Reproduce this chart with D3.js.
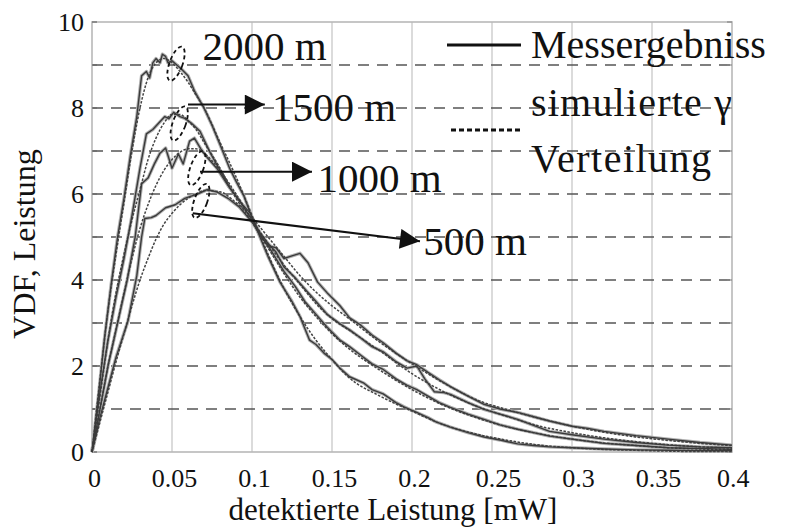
<!DOCTYPE html>
<html><head><meta charset="utf-8">
<script src="https://cdn.jsdelivr.net/npm/d3@7"></script>
<style>body{margin:0;background:#fff}svg{display:block}text{font-family:"Liberation Serif","Times New Roman",Tinos,"DejaVu Serif","Noto Serif",serif;fill:#111}</style>
</head><body><svg id="c" width="790" height="528"></svg>
<script>
// ---- data ----
const xTicks = [0, 0.05, 0.1, 0.15, 0.2, 0.25, 0.3, 0.35, 0.4];
const xTickLabels = ["0", "0.05", "0.1", "0.15", "0.2", "0.25", "0.3", "0.35", "0.4"];
const yTicks = [0, 2, 4, 6, 8, 10];
const yGrid = [1, 2, 3, 4, 5, 6, 7, 8, 9];
const distances = ["2000 m", "1500 m", "1000 m", "500 m"];

const meas2000 = [[0,0],[0.004,1.3],[0.008,2.7],[0.012,3.9],[0.016,5.0],[0.02,5.9],[0.024,6.9],[0.028,7.8],[0.031,8.75],[0.034,8.85],[0.036,8.7],[0.038,9.05],[0.04,9.15],[0.0425,9.05],[0.044,9.25],[0.046,9.2],[0.0475,9.05],[0.05,9.1],[0.053,9.0],[0.056,8.9],[0.06,8.75],[0.064,8.4],[0.07,8.0],[0.075,7.6],[0.08,7.15],[0.086,6.6],[0.09,6.3],[0.095,5.95],[0.1,5.45],[0.105,5.0],[0.11,4.55],[0.1175,3.95],[0.125,3.5],[0.13,3.15],[0.136,2.6],[0.14,2.5],[0.145,2.3],[0.15,2.15],[0.155,1.95],[0.161,1.75],[0.17,1.6],[0.175,1.45],[0.182,1.35],[0.19,1.15],[0.195,1.05],[0.203,0.92],[0.21,0.8],[0.215,0.7],[0.224,0.58],[0.235,0.45],[0.245,0.35],[0.255,0.28],[0.266,0.19],[0.276,0.15],[0.286,0.12],[0.3,0.1],[0.32,0.07],[0.34,0.05],[0.36,0.04],[0.38,0.03],[0.4,0.03]];
const meas1500 = [[0,0],[0.005,1.4],[0.01,2.6],[0.015,3.6],[0.02,4.5],[0.025,5.5],[0.03,6.6],[0.034,7.4],[0.038,7.5],[0.041,7.62],[0.0455,7.8],[0.048,7.75],[0.051,7.9],[0.055,7.8],[0.058,7.76],[0.062,7.65],[0.0675,7.46],[0.074,6.95],[0.08,6.55],[0.086,6.15],[0.093,5.8],[0.099,5.55],[0.105,5.05],[0.11,4.8],[0.115,4.5],[0.12,4.2],[0.127,3.85],[0.133,3.5],[0.14,3.2],[0.147,2.9],[0.155,2.6],[0.161,2.45],[0.168,2.25],[0.175,2.05],[0.182,1.92],[0.19,1.7],[0.197,1.55],[0.203,1.45],[0.21,1.3],[0.217,1.15],[0.224,1.04],[0.235,0.88],[0.245,0.76],[0.255,0.63],[0.266,0.53],[0.276,0.45],[0.286,0.37],[0.3,0.3],[0.32,0.2],[0.34,0.15],[0.36,0.1],[0.38,0.08],[0.4,0.06]];
const meas1000 = [[0,0],[0.005,1.0],[0.01,2.0],[0.016,3.0],[0.022,4.0],[0.027,5.0],[0.031,6.24],[0.035,6.37],[0.039,6.7],[0.0425,6.95],[0.046,7.07],[0.05,6.6],[0.054,6.93],[0.057,6.7],[0.061,7.23],[0.064,7.3],[0.068,7.05],[0.072,6.85],[0.078,6.6],[0.085,6.2],[0.092,5.85],[0.1,5.4],[0.105,5.1],[0.11,4.85],[0.115,4.65],[0.12,4.3],[0.127,4.05],[0.134,3.75],[0.14,3.5],[0.147,3.2],[0.155,2.98],[0.161,2.84],[0.168,2.65],[0.175,2.45],[0.182,2.33],[0.19,2.1],[0.197,1.95],[0.203,2.0],[0.208,1.7],[0.214,1.4],[0.22,1.38],[0.224,1.34],[0.235,1.15],[0.245,0.99],[0.255,0.88],[0.266,0.76],[0.276,0.62],[0.286,0.48],[0.3,0.4],[0.32,0.3],[0.34,0.22],[0.36,0.16],[0.38,0.12],[0.4,0.1]];
const meas500 = [[0,0],[0.005,0.8],[0.01,1.5],[0.015,2.2],[0.0225,3.05],[0.028,4.1],[0.031,5.0],[0.033,5.43],[0.037,5.45],[0.04,5.5],[0.046,5.68],[0.052,5.75],[0.058,5.9],[0.062,5.95],[0.066,6.0],[0.072,6.1],[0.078,6.05],[0.085,5.9],[0.092,5.7],[0.1,5.35],[0.106,5.0],[0.11,4.8],[0.115,4.75],[0.12,4.5],[0.124,4.55],[0.13,4.62],[0.135,4.4],[0.141,3.95],[0.147,3.7],[0.155,3.4],[0.161,3.12],[0.168,2.95],[0.175,2.72],[0.182,2.54],[0.19,2.3],[0.197,2.12],[0.203,2.03],[0.21,1.85],[0.217,1.68],[0.224,1.52],[0.235,1.3],[0.245,1.11],[0.255,1.0],[0.266,0.92],[0.276,0.82],[0.286,0.72],[0.3,0.6],[0.31,0.55],[0.32,0.48],[0.34,0.38],[0.36,0.3],[0.38,0.22],[0.4,0.16]];

const simX = [0,0.005,0.01,0.015,0.02,0.025,0.03,0.035,0.04,0.045,0.05,0.055,0.06,0.065,0.07,0.08,0.09,0.1,0.11,0.12,0.13,0.14,0.15,0.16,0.18,0.2,0.22,0.24,0.26,0.28,0.3,0.32,0.34,0.36,0.38,0.4];
const sim2000 = [0,1.7,3.3,4.6,5.8,7.0,8.0,8.7,9.05,9.15,9.05,8.85,8.6,8.3,8.0,7.2,6.4,5.5,4.6,3.8,3.15,2.6,2.15,1.75,1.3,0.95,0.63,0.42,0.27,0.16,0.1,0.06,0.04,0.02,0.01,0.01];
const sim1500 = [0,1.3,2.6,3.7,4.6,5.4,6.1,6.8,7.3,7.65,7.85,7.85,7.7,7.5,7.2,6.6,5.9,5.35,4.75,4.15,3.6,3.15,2.75,2.42,1.9,1.45,1.08,0.8,0.58,0.42,0.3,0.21,0.15,0.1,0.07,0.05];
const sim1000 = [0,1.0,2.0,2.85,3.7,4.5,5.2,5.75,6.2,6.55,6.8,6.97,7.05,7.05,6.95,6.55,6.0,5.4,4.85,4.35,3.9,3.45,3.1,2.85,2.35,1.82,1.4,1.07,0.82,0.6,0.45,0.33,0.24,0.17,0.12,0.09];
const sim500 = [0,0.7,1.4,2.1,2.75,3.4,4.0,4.5,4.95,5.3,5.55,5.75,5.9,6.0,6.08,6.05,5.8,5.45,5.0,4.55,4.1,3.72,3.4,3.12,2.55,2.05,1.6,1.22,0.98,0.78,0.6,0.46,0.35,0.27,0.2,0.15];

// annotation positions in data units
const ellipseX = [0.0525, 0.0545, 0.0655, 0.068];
const ellipseY = [9.03, 7.64, 6.6, 5.84];
const arrowFrom = [null, [0.06, 8.08], [0.0675, 6.52], [0.063, 5.55]];
const arrowTo = [null, [0.108, 8.08], [0.1375, 6.52], [0.205, 4.9]];
const labelPos = [[0.069, 9.12], [0.1125, 7.7], [0.141, 6.05], [0.207, 4.57]];
const legendLabels = ["Messergebniss", "simulierte \u03b3", "Verteilung"];

// ---- chart ----
const svg = d3.select("#c");
const x = d3.scaleLinear().domain([0, 0.4]).range([92, 732]);
const y = d3.scaleLinear().domain([0, 10]).range([452, 22]);
const serif = '"Liberation Serif","Times New Roman",Tinos,"DejaVu Serif","Noto Serif",serif';

// vertical grid
svg.append("g").selectAll("line").data(xTicks.slice(1, -1)).join("line")
  .attr("x1", d => x(d)).attr("x2", d => x(d)).attr("y1", y(10)).attr("y2", y(0))
  .attr("stroke", "#d2d2d2").attr("stroke-width", 1.6);
// horizontal dashed grid
svg.append("g").selectAll("line").data(yGrid).join("line")
  .attr("x1", x(0)).attr("x2", x(0.4)).attr("y1", d => y(d)).attr("y2", d => y(d))
  .attr("stroke", "#555").attr("stroke-width", 1.3).attr("stroke-dasharray", "11,8");
// frame
svg.append("rect").attr("x", x(0)).attr("y", y(10)).attr("width", x(0.4) - x(0)).attr("height", y(0) - y(10))
  .attr("fill", "none").attr("stroke", "#b8b8b8").attr("stroke-width", 1.6);
// y tick marks left & right
const yMinor = d3.range(0, 11);
svg.append("g").selectAll("line").data(yMinor).join("line")
  .attr("x1", x(0)).attr("x2", x(0) + 5).attr("y1", d => y(d)).attr("y2", d => y(d)).attr("stroke", "#666").attr("stroke-width", 1.2);
svg.append("g").selectAll("line").data(yMinor).join("line")
  .attr("x1", x(0.4) - 5).attr("x2", x(0.4)).attr("y1", d => y(d)).attr("y2", d => y(d)).attr("stroke", "#888").attr("stroke-width", 1.2);

// axes (labels only)
const xAxis = d3.axisBottom(x).tickValues(xTicks).tickFormat((d, i) => xTickLabels[i]).tickSize(0).tickPadding(0);
const gx = svg.append("g").attr("transform", `translate(0,${y(0)})`).call(xAxis).attr("font-family", null);
gx.select(".domain").remove();
gx.selectAll("text").style("font-family", serif).attr("font-size", 26).attr("fill", "#111").attr("dy", null).attr("y", 35)
  .attr("text-anchor", (d, i) => i === xTicks.length - 1 ? "end" : "middle")
  .attr("dx", (d, i) => i === xTicks.length - 1 ? 17 : (i >= 5 ? 6 : 2));
const yAxis = d3.axisLeft(y).tickValues(yTicks).tickSize(0).tickPadding(0);
const gy = svg.append("g").attr("transform", `translate(84,0)`).call(yAxis).attr("font-family", null);
gy.select(".domain").remove();
gy.selectAll("text").style("font-family", serif).attr("font-size", 26).attr("fill", "#111").attr("dy", "0.33em");

svg.append("text").attr("x", 393).attr("y", 520).attr("text-anchor", "middle").attr("font-size", 31).text("detektierte Leistung [mW]");
svg.append("text").attr("transform", "translate(35,244) rotate(-90)").attr("text-anchor", "middle").attr("font-size", 32).text("VDF, Leistung");

// curves
const line = d3.line().x(d => x(d[0])).y(d => y(d[1]));
const measured = [meas2000, meas1500, meas1000, meas500];
const simulated = [sim2000, sim1500, sim1000, sim500].map(arr => simX.map((v, i) => [v, arr[i]]));
const gc = svg.append("g");
gc.selectAll("path.halo").data(measured).join("path").attr("class", "halo").attr("d", line)
  .attr("fill", "none").attr("stroke", "#b0b0b0").attr("stroke-width", 3.4).attr("stroke-linejoin", "round");
gc.selectAll("path.sim").data(simulated).join("path").attr("class", "sim").attr("d", d3.line().curve(d3.curveMonotoneX).x(d => x(d[0])).y(d => y(d[1])))
  .attr("fill", "none").attr("stroke", "#444").attr("stroke-width", 1.5).attr("stroke-dasharray", "2.5,1.5");
gc.selectAll("path.meas").data(measured).join("path").attr("class", "meas").attr("d", line)
  .attr("fill", "none").attr("stroke", "#3a3a3a").attr("stroke-width", 1.4).attr("stroke-linejoin", "round");

// ellipses
svg.append("g").selectAll("ellipse").data(ellipseX).join("ellipse")
  .attr("transform", (d, i) => `translate(${x(d)},${y(ellipseY[i])}) rotate(20)`)
  .attr("rx", 6.5).attr("ry", 18).attr("fill", "none").attr("stroke", "#111").attr("stroke-width", 1.8).attr("stroke-dasharray", "4,3");

// arrows
const defs = svg.append("defs");
defs.append("marker").attr("id", "ah").attr("viewBox", "0 0 10 10").attr("refX", 10).attr("refY", 5)
  .attr("markerUnits", "userSpaceOnUse").attr("markerWidth", 24).attr("markerHeight", 20).attr("orient", "auto")
  .append("path").attr("d", "M0,0L10,5L0,10Z").attr("fill", "#111");
svg.append("g").selectAll("line").data(arrowFrom.map((a, i) => [a, arrowTo[i]]).filter(d => d[0])).join("line")
  .attr("x1", d => x(d[0][0])).attr("y1", d => y(d[0][1])).attr("x2", d => x(d[1][0])).attr("y2", d => y(d[1][1]))
  .attr("stroke", "#111").attr("stroke-width", 2).attr("marker-end", "url(#ah)");

// distance labels
svg.append("g").selectAll("text").data(distances).join("text")
  .attr("x", (d, i) => x(labelPos[i][0])).attr("y", (d, i) => y(labelPos[i][1]))
  .attr("font-size", 41).text(d => d);

// legend
svg.append("line").attr("x1", 447).attr("x2", 521).attr("y1", 45).attr("y2", 45).attr("stroke", "#111").attr("stroke-width", 3);
svg.append("line").attr("x1", 451).attr("x2", 521).attr("y1", 130).attr("y2", 130).attr("stroke", "#111").attr("stroke-width", 3).attr("stroke-dasharray", "5,3");
svg.append("text").attr("x", 531).attr("y", 58).attr("font-size", 40).text(legendLabels[0]);
svg.append("text").attr("x", 531).attr("y", 116).attr("font-size", 40).attr("letter-spacing", 1.2).text(legendLabels[1]);
svg.append("text").attr("x", 531).attr("y", 172).attr("font-size", 40).attr("letter-spacing", 1.5).text(legendLabels[2]);
</script></body></html>
